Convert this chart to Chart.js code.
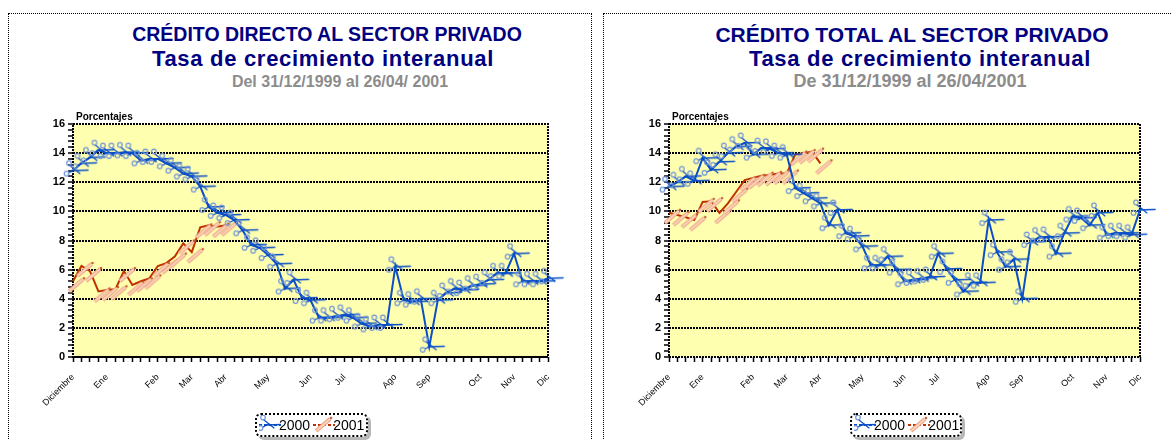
<!DOCTYPE html>
<html>
<head>
<meta charset="utf-8">
<script src="https://cdn.jsdelivr.net/npm/chart.js@4.4.1/dist/chart.umd.min.js"></script>
<style>
  html, body { margin:0; padding:0; background:#fff; width:1172px; height:440px; overflow:hidden; }
  body { position:relative; font-family:"Liberation Sans", Arial, sans-serif; }
  .panel { position:absolute; border:1px dotted #000; box-sizing:border-box; }
  .t { position:absolute; width:600px; text-align:center; line-height:1; white-space:nowrap; font-weight:bold; }
  .t1 { color:#000080; }
  .t2 { font-size:22px; color:#000080; letter-spacing:0.7px; }
  .t3 { color:#8c8c8c; }
  canvas.chart { position:absolute; top:0; }
  .legend { position:absolute; top:413px; height:24px; border:2px dotted #000; border-radius:6px;
            box-shadow:3px 3px 0 #b8b8b8; background:#fff; box-sizing:border-box;
            display:flex; align-items:center; font-size:14px; color:#000; padding-left:2px; }
  .legend canvas { display:block; }
  .legend span { margin-left:-2px; margin-right:3px; }
</style>
</head>
<body>
<div class="panel" style="left:8px; top:13px; width:584px; height:460px;"></div>
<div class="panel" style="left:603px; top:13px; width:600px; height:460px;"></div>

<div class="t t1" style="left:27px; top:25px; font-size:19.5px;">CRÉDITO DIRECTO AL SECTOR PRIVADO</div>
<div class="t t2" style="left:23px; top:48px;">Tasa de crecimiento interanual</div>
<div class="t t3" style="left:40px; top:74px; font-size:16px;">Del 31/12/1999 al 26/04/ 2001</div>

<div class="t t1" style="left:612px; top:24px; font-size:21px;">CRÉDITO TOTAL AL SECTOR PRIVADO</div>
<div class="t t2" style="left:620px; top:48px;">Tasa de crecimiento interanual</div>
<div class="t t3" style="left:610px; top:72px; font-size:18px;">De 31/12/1999 al 26/04/2001</div>

<canvas id="c1" class="chart" style="left:0px;" width="596" height="410"></canvas>
<canvas id="c2" class="chart" style="left:596px;" width="576" height="410"></canvas>

<div class="legend" id="lg1" style="left:255px; width:113px;"></div>
<div class="legend" id="lg2" style="left:850px; width:112px;"></div>

<script>
// ---------------- DATA ----------------
const monthLabels = {0:'Diciembre', 4:'Ene', 10:'Feb', 14:'Mar', 18:'Abr', 23:'May', 28:'Jun', 32:'Jul', 38:'Ago', 42:'Sep', 48:'Oct', 52:'Nov', 56:'Dic'};
const pointCount = 57;

const directo2000 = [12.8, 13.3, 13.7, 14.2, 14.0, 14.0, 14.05, 14.0, 13.5, 13.6, 13.6, 13.3, 13.0, 12.6, 12.4, 11.7, 10.3, 9.9, 9.75, 9.4,
                     8.7, 7.7, 7.5, 7.0, 6.4, 4.7, 5.3, 4.05, 3.9, 2.7, 2.7, 2.8, 2.9, 2.7, 2.3, 2.1, 2.2, 2.2, 6.2, 3.9,
                     3.8, 4.0, 0.7, 3.9, 4.4, 4.7, 4.6, 4.9, 5.0, 5.3, 5.75, 5.75, 7.1, 5.2, 5.2, 5.2, 5.4];
const directo2001 = [5.2, 6.25, 5.9, 4.5, 4.6, 4.65, 5.9, 4.95, 5.2, 5.4, 6.25, 6.45, 6.9, 7.8, 7.2, 8.9, 9.05, 8.95, 9.05];

const total2000 = [11.7, 12.0, 12.4, 12.1, 13.65, 12.85, 13.4, 14.0, 14.45, 14.7, 13.9, 14.35, 14.3, 14.0, 13.9, 11.6, 11.25, 10.9, 10.55, 9.05,
                   10.1, 8.5, 8.3, 7.6, 6.3, 6.3, 6.9, 6.0, 5.2, 5.3, 5.4, 5.5, 7.1, 6.05, 5.3, 4.5, 5.1, 5.1, 9.4, 7.2,
                   6.2, 6.7, 4.0, 7.9, 8.2, 8.25, 7.1, 8.5, 9.65, 9.55, 9.05, 9.9, 8.4, 8.5, 8.5, 8.4, 10.1];
const total2001 = [9.9, 9.75, 9.6, 9.4, 10.65, 10.7, 9.9, 10.55, 11.35, 12.15, 12.3, 12.45, 12.5, 12.6, 12.6, 13.9, 14.0, 14.1, 13.3];

const yMin = 0, yMax = 16, yMajor = 2, yMinor = 0.4;
const seriesNames = ['2000', '2001'];

// ---------------- STYLE ----------------
const BLUE = '#0a4fc8';
const LIGHTBLUE = '#7397d8';
const RED = '#c03000';
const FONT = '"Liberation Sans", Arial, sans-serif';

const xLabels = Array.from({length: pointCount}, (_, i) => monthLabels[i] || '');

function scissorsIcon() {
  const c = document.createElement('canvas'); c.width = 40; c.height = 30;
  const g = c.getContext('2d'); const cx = 20, cy = 15;
  g.lineCap = 'round';
  g.strokeStyle = BLUE; g.lineWidth = 1.6;
  g.beginPath(); g.moveTo(cx - 1, cy); g.lineTo(cx + 15, cy - 0.5); g.stroke();
  g.lineWidth = 1.2;
  g.beginPath(); g.moveTo(cx - 3, cy - 5); g.lineTo(cx + 7, cy + 3); g.stroke();
  g.beginPath(); g.moveTo(cx - 4, cy + 2); g.lineTo(cx + 2, cy - 1); g.stroke();
  g.strokeStyle = LIGHTBLUE; g.lineWidth = 1.2;
  g.beginPath(); g.arc(cx - 4, cy - 7.5, 2.3, 0, 2 * Math.PI); g.stroke();
  g.beginPath(); g.arc(cx - 6.5, cy + 3, 2.3, 0, 2 * Math.PI); g.stroke();
  return c;
}
function pencilIcon() {
  const c = document.createElement('canvas'); c.width = 40; c.height = 40;
  const g = c.getContext('2d'); const cx = 20, cy = 20;
  const x1 = cx - 4, y1 = cy + 10, x2 = cx + 10, y2 = cy - 2;
  g.lineCap = 'butt';
  g.strokeStyle = '#eca383'; g.lineWidth = 4;
  g.beginPath(); g.moveTo(x1, y1); g.lineTo(x2, y2); g.stroke();
  g.strokeStyle = '#fbd2bb'; g.lineWidth = 2;
  g.beginPath(); g.moveTo(x1, y1); g.lineTo(x2, y2); g.stroke();
  g.fillStyle = '#c8603e';
  g.beginPath(); g.arc(x2 + 1, y2 - 1, 1.3, 0, 2 * Math.PI); g.fill();
  return c;
}
const SCISSORS = scissorsIcon();
const PENCIL = pencilIcon();

const isMajor = v => Math.abs(v / yMajor - Math.round(v / yMajor)) < 1e-6;

const plotDeco = {
  id: 'plotDeco',
  beforeDraw(chart) {
    const a = chart.chartArea, ctx = chart.ctx;
    ctx.save();
    ctx.fillStyle = '#ffffb0';
    ctx.fillRect(a.left, a.top, a.right - a.left, a.bottom - a.top);
    ctx.restore();
  },
  beforeDatasetsDraw(chart) {
    const a = chart.chartArea, ctx = chart.ctx;
    ctx.save();
    ctx.strokeStyle = '#000'; ctx.lineWidth = 2; ctx.setLineDash([2, 1]);
    ctx.strokeRect(a.left, a.top, a.right - a.left, a.bottom - a.top);
    ctx.setLineDash([]);
    ctx.font = 'bold 10px ' + FONT; ctx.fillStyle = '#000'; ctx.textBaseline = 'alphabetic'; ctx.textAlign = 'left';
    ctx.fillText('Porcentajes', a.left + 3, a.top - 4);
    ctx.restore();
  }
};

function makeChart(id, s2000, s2001, padRight) {
  return new Chart(document.getElementById(id), {
    type: 'line',
    data: {
      labels: xLabels,
      datasets: [
        { label: seriesNames[0], data: s2000, borderColor: BLUE, backgroundColor: BLUE, borderWidth: 2,
          pointStyle: SCISSORS, pointRadius: 3, pointHoverRadius: 3, tension: 0, fill: false, clip: false },
        { label: seriesNames[1], data: s2001, borderColor: RED, backgroundColor: RED, borderWidth: 2,
          pointStyle: PENCIL, pointRadius: 3, pointHoverRadius: 3, tension: 0, fill: false, clip: false }
      ]
    },
    options: {
      responsive: false, animation: false, devicePixelRatio: 1,
      events: [],
      layout: { padding: { left: 20, right: padRight, top: 124, bottom: 0 } },
      plugins: { legend: { display: false }, title: { display: false }, tooltip: { enabled: false } },
      scales: {
        x: {
          type: 'category', offset: false,
          grid: { display: true, drawOnChartArea: false, drawTicks: true, tickLength: 5, tickColor: '#000', tickWidth: 1.5 },
          border: { display: false },
          ticks: { autoSkip: false, minRotation: 45, maxRotation: 45, padding: 10, color: '#000',
                   font: { family: FONT, size: 9 } },
          afterFit: s => { s.height = 53; }
        },
        y: {
          min: yMin, max: yMax,
          grid: { display: true, drawOnChartArea: true, drawTicks: true, tickLength: 5, tickColor: '#000', tickWidth: 1.5,
                  color: c => (c.tick && isMajor(c.tick.value)) ? '#000' : 'rgba(0,0,0,0)', lineWidth: 2 },
          border: { display: false, dash: [2, 1] },
          ticks: { stepSize: yMinor, autoSkip: false, padding: 3, color: '#000',
                   font: { family: FONT, size: 11, weight: 'bold' },
                   callback: v => isMajor(v) ? String(Math.round(v)) : '' },
          afterFit: s => { s.width = 53; }
        }
      }
    },
    plugins: [plotDeco]
  });
}

makeChart('c1', directo2000, directo2001, 48);
makeChart('c2', total2000, total2001, 32);

// ---------------- LEGEND (HTML) ----------------
function legendIcon(color, icon, sx, sy) {
  const c = document.createElement('canvas'); c.width = 22; c.height = 20;
  const g = c.getContext('2d');
  g.strokeStyle = color; g.lineWidth = 2; g.setLineDash([3, 2]);
  g.beginPath(); g.moveTo(0, 10); g.lineTo(22, 10); g.stroke();
  g.setLineDash([]);
  g.drawImage(icon, sx, sy);
  return c;
}
function buildLegend(id) {
  const el = document.getElementById(id);
  el.appendChild(legendIcon(BLUE, SCISSORS, -12, -5));
  const s1 = document.createElement('span'); s1.textContent = seriesNames[0]; el.appendChild(s1);
  el.appendChild(legendIcon(RED, PENCIL, -13, -14));
  const s2 = document.createElement('span'); s2.textContent = seriesNames[1]; el.appendChild(s2);
}
buildLegend('lg1');
buildLegend('lg2');
</script>
</body>
</html>
